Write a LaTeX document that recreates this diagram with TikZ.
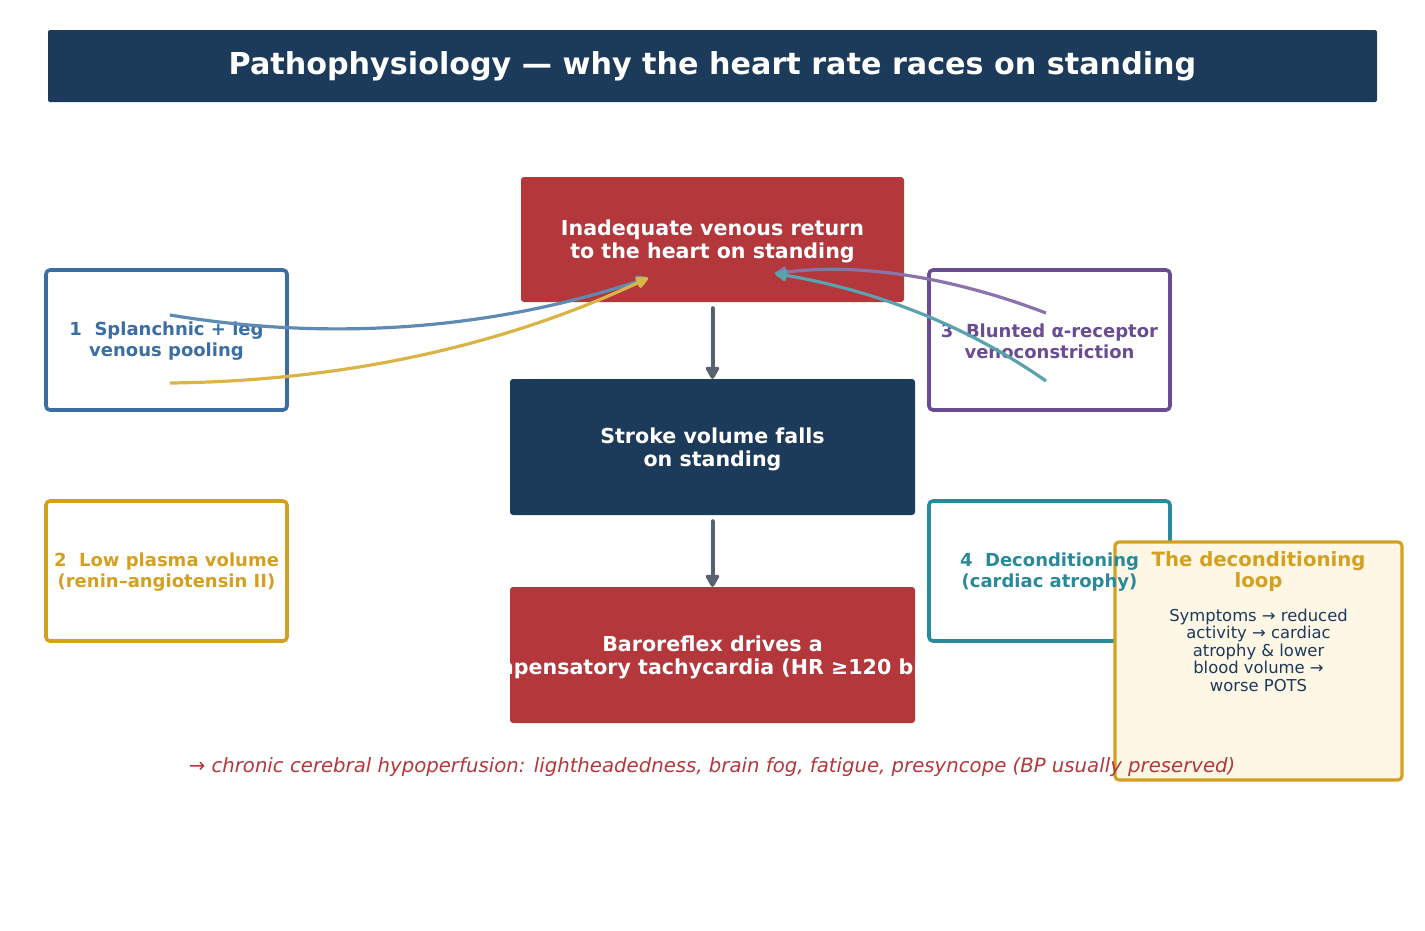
\documentclass[tikz,border=0pt]{standalone}
\usepackage{fontspec}
\setmainfont{DejaVu Sans}
\usetikzlibrary{arrows.meta,calc}
\definecolor{navy}{HTML}{1C3A5A}
\definecolor{redbox}{HTML}{B3373B}
\definecolor{cblue}{HTML}{3A6EA5}
\definecolor{cgold}{HTML}{D4A020}
\definecolor{cpurple}{HTML}{6A4C93}
\definecolor{cteal}{HTML}{2A8A9A}
\definecolor{lblue}{HTML}{5F8BB3}
\definecolor{lgold}{HTML}{DBB448}
\definecolor{lpurple}{HTML}{8A72AB}
\definecolor{lteal}{HTML}{58A3AD}
\definecolor{arrgray}{HTML}{596170}
\definecolor{cream}{HTML}{FEF7E6}
\definecolor{txtred}{HTML}{B3373B}
\tikzset{
  x=1pt, y=-1pt,
  mainbox/.style={rectangle, rounded corners=3pt, minimum width=#1, inner sep=0pt},
  maintext/.style={text=white, align=center, font=\fontsize{20.6}{23}\selectfont\bfseries, inner sep=0pt},
  factorbox/.style={rectangle, rounded corners=4pt, draw=#1, line width=3.6pt, minimum width=241pt, minimum height=140pt, inner sep=0pt},
  factortext/.style={text=#1, align=center, font=\fontsize{18}{21}\selectfont\bfseries},
  flow/.style={draw=arrgray, line width=4pt, line cap=round, -{Triangle[length=14pt,width=15pt,round]}},
  feed/.style={draw=#1, line width=3.2pt, -{Triangle[length=14pt,width=13pt,round]}},
}
\begin{document}
\begin{tikzpicture}
\useasboundingbox (0,0) rectangle (1425,930);
% title
\node[rectangle, rounded corners=2pt, fill=navy, minimum width=1329pt, minimum height=72pt, inner sep=0pt, text=white,
  font=\fontsize{30.2}{36}\selectfont\bfseries] (title) at (712.5,66) {Pathophysiology — why the heart rate races on standing};
% main chain
\node[mainbox=383pt, minimum height=125pt, fill=redbox] (venous) at (712.5,239.5) {};
\node[maintext] (venoust) at ($(venous.center)+(0,2)$) {Inadequate venous return\\to the heart on standing};
\node[mainbox=405pt, minimum height=136pt, fill=navy] (stroke) at (712.5,447) {};
\node[maintext] (stroket) at ($(stroke.center)+(0,2)$) {Stroke volume falls\\on standing};
\node[mainbox=405pt, minimum height=136pt, fill=redbox] (baro) at (712.5,655) {};
\node[maintext] (barot) at ($(baro.center)+(0,2)$) {Baroreflex drives a\\compensatory tachycardia (HR ≥120 bpm)};
% factor boxes
\node[factorbox=cblue] (f1) at (166.5,340) {};
\node[factorbox=cgold] (f2) at (166.5,571) {};
\node[factorbox=cpurple] (f3) at (1049.5,340) {};
\node[factorbox=cteal] (f4) at (1049.5,571) {};
\node[factortext=cblue] (t1) at ($(f1.center)+(0,1)$) {1\ \ Splanchnic + leg\\venous pooling};
\node[factortext=cgold] (t2) at ($(f2.center)+(0,1)$) {2\ \ Low plasma volume\\(renin–angiotensin II)};
\node[factortext=cpurple] (t3) at ($(f3.center)+(0,1)$) {3\ \ Blunted α-receptor\\venoconstriction};
% chain arrows
\coordinate (a1) at ($(venous.south)+(0,6)$);
\coordinate (a2) at ($(stroke.south)+(0,6)$);
\draw[flow] (a1) -- (stroke.north);
\draw[flow] (a2) -- (baro.north);
% feed curves
\coordinate (s1) at ($(f1.center)+(3.5,-25)$);
\coordinate (s2) at ($(f1.center)+(3.5,43)$);
\coordinate (s3) at ($(f3.center)+(-3.5,-27)$);
\coordinate (s4) at ($(f3.center)+(-3.5,41)$);
\coordinate (eL) at ($(venous.center)+(-64.5,38.5)$);
\coordinate (eR) at ($(venous.center)+(62.5,34)$);
\draw[feed=lblue] (s1) .. controls (333,342) and (493,329) .. (eL);
\draw[feed=lgold] (s2) .. controls (343,381) and (503,346) .. (eL);
\draw[feed=lpurple] (s3) .. controls (949,276) and (858,263) .. (eR);
\draw[feed=lteal] (s4) .. controls (969,327) and (878,291) .. (eR);
% loop box
\node[rectangle, rounded corners=4pt, fill=cream, draw=cgold, line width=3.2pt, minimum width=287pt, minimum height=238pt, inner sep=0pt] (loop) at (1258.5,661) {};
\node[text=cgold, align=center, font=\fontsize{19.7}{21}\selectfont\bfseries, anchor=north, inner sep=0pt] (looptitle) at ($(loop.north)+(0,11)$) {The deconditioning\\loop};
\node[text=navy, align=center, font=\fontsize{16.4}{17.6}\selectfont, anchor=north, inner sep=0pt] (loopbody) at ($(loop.north)+(0,68)$) {Symptoms → reduced\\activity → cardiac\\atrophy \& lower\\blood volume →\\worse POTS};
\node[factortext=cteal] (t4) at ($(f4.center)+(0,1)$) {4\ \ Deconditioning\\(cardiac atrophy)};
% bottom note
\node[text=txtred, font=\fontsize{19.7}{22}\selectfont\itshape] (note) at (712,767) {→ chronic cerebral hypoperfusion: lightheadedness, brain fog, fatigue, presyncope (BP usually preserved)};
\end{tikzpicture}
\end{document}
